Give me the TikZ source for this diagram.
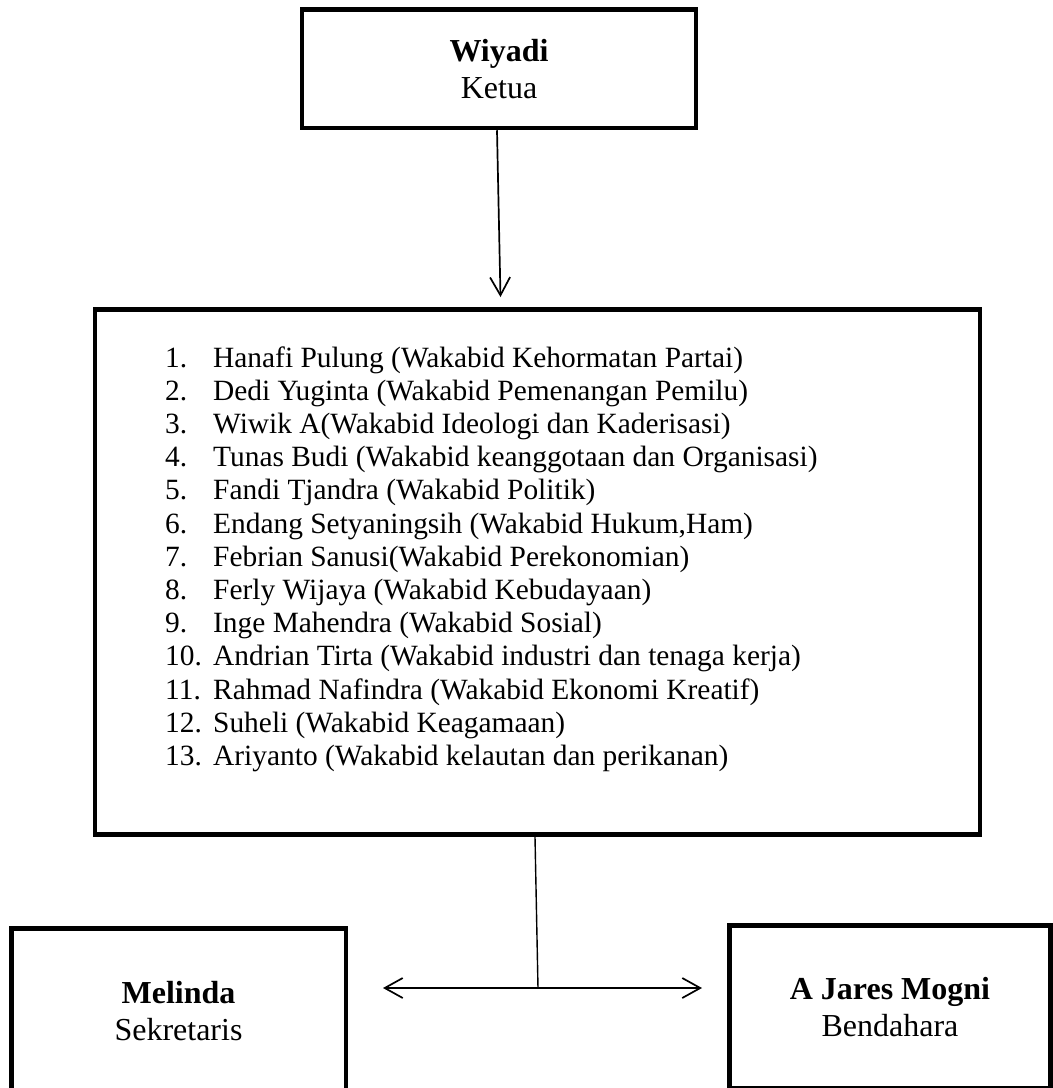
\documentclass[tikz,border=0pt]{standalone}
\usepackage{fontspec}
\setmainfont{Liberation Serif}
\usetikzlibrary{arrows.meta,positioning}

\begin{document}
\begin{tikzpicture}[x=1pt,y=-1pt,
  >={Straight Barb[length=18pt,width=20pt]},
  box node/.style={draw,line width=4.5pt,align=center,inner sep=0pt,font=\fontsize{32}{37}\selectfont},
  list node/.style={anchor=base west,inner sep=0pt,font=\fontsize{29.4}{33.2}\selectfont},
  link/.style={line width=1.7pt}]

  \useasboundingbox (0,0) rectangle (1053,1088);

  % boxes
  \node[box node,minimum width=394pt,minimum height=118.5pt] (wiyadi) at (499,68.75) {\textbf{Wiyadi}\\Ketua};
  \node[box node,minimum width=885pt,minimum height=525pt] (wakabid) at (537.5,572) {};
  \node[box node,minimum width=334.5pt,minimum height=165.5pt] (melinda) at (178.5,1011.25) {\textbf{Melinda}\\Sekretaris};
  \node[box node,minimum width=321pt,minimum height=162.5pt] (jares) at (890,1006.75) {\textbf{A Jares Mogni}\\Bendahara};

  % list of wakabid
  \foreach \item [count=\i] in {
    {Hanafi Pulung (Wakabid Kehormatan Partai)},
    {Dedi Yuginta (Wakabid Pemenangan Pemilu)},
    {Wiwik A(Wakabid Ideologi dan Kaderisasi)},
    {Tunas Budi (Wakabid keanggotaan dan Organisasi)},
    {Fandi Tjandra (Wakabid Politik)},
    {Endang Setyaningsih (Wakabid Hukum,Ham)},
    {Febrian Sanusi(Wakabid Perekonomian)},
    {Ferly Wijaya (Wakabid Kebudayaan)},
    {Inge Mahendra (Wakabid Sosial)},
    {Andrian Tirta (Wakabid industri dan tenaga kerja)},
    {Rahmad Nafindra (Wakabid Ekonomi Kreatif)},
    {Suheli (Wakabid Keagamaan)},
    {Ariyanto (Wakabid kelautan dan perikanan)}}
  {
    \node[list node] (num\i) at (165,{367+(\i-1)*33.2}) {\i.};
    \node[list node] (item\i) at (213,{367+(\i-1)*33.2}) {\item};
  }

  % connectors
  \coordinate (tip) at (500.5,297);
  \coordinate (junction) at (538,988);
  \coordinate (secl) at (383,988);
  \coordinate (benr) at (702,988);

  \draw[link,->] ([xshift=-2pt]wiyadi.south) -- (tip);
  \draw[link,line width=1.4pt] ([xshift=-2.5pt]wakabid.south) -- (junction);
  \draw[link,<->] (secl) -- (benr);
\end{tikzpicture}
\end{document}
